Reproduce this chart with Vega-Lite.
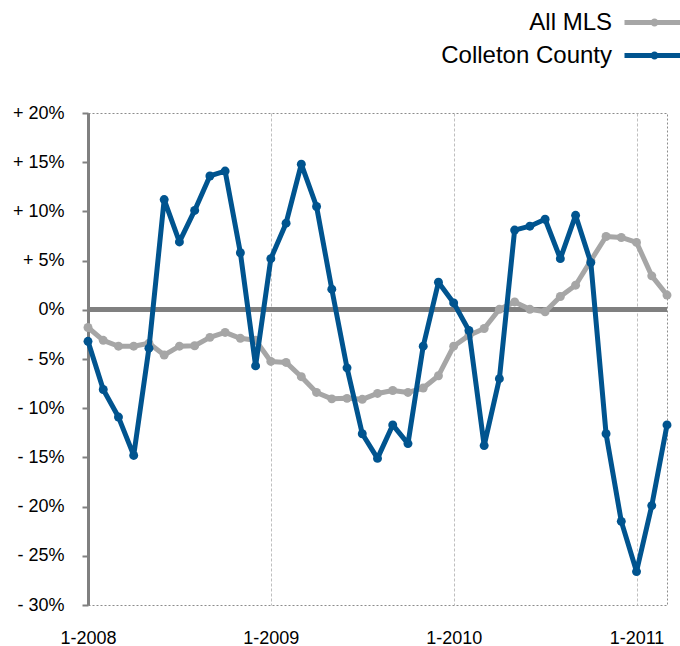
{
  "$schema": "https://vega.github.io/schema/vega-lite/v6.json",
  "width": 579,
  "height": 492,
  "autosize": {"type": "none"},
  "padding": {"left": 88, "top": 113, "right": 13, "bottom": 41},
  "background": "white",
  "config": {
    "view": {"stroke": "#8c8c8c", "strokeDash": [2, 2], "strokeWidth": 1},
    "font": "Liberation Sans"
  },
  "data": {
    "values": [
      {"month": "1-2008", "series": "All MLS", "value": -1.8}, {"month": "1-2008", "series": "Colleton County", "value": -3.2},
      {"month": "2-2008", "series": "All MLS", "value": -3.1}, {"month": "2-2008", "series": "Colleton County", "value": -8.1},
      {"month": "3-2008", "series": "All MLS", "value": -3.7}, {"month": "3-2008", "series": "Colleton County", "value": -10.9},
      {"month": "4-2008", "series": "All MLS", "value": -3.7}, {"month": "4-2008", "series": "Colleton County", "value": -14.8},
      {"month": "5-2008", "series": "All MLS", "value": -3.4}, {"month": "5-2008", "series": "Colleton County", "value": -3.9},
      {"month": "6-2008", "series": "All MLS", "value": -4.6}, {"month": "6-2008", "series": "Colleton County", "value": 11.2},
      {"month": "7-2008", "series": "All MLS", "value": -3.7}, {"month": "7-2008", "series": "Colleton County", "value": 6.9},
      {"month": "8-2008", "series": "All MLS", "value": -3.65}, {"month": "8-2008", "series": "Colleton County", "value": 10.1},
      {"month": "9-2008", "series": "All MLS", "value": -2.8}, {"month": "9-2008", "series": "Colleton County", "value": 13.6},
      {"month": "10-2008", "series": "All MLS", "value": -2.3}, {"month": "10-2008", "series": "Colleton County", "value": 14.1},
      {"month": "11-2008", "series": "All MLS", "value": -2.9}, {"month": "11-2008", "series": "Colleton County", "value": 5.8},
      {"month": "12-2008", "series": "All MLS", "value": -3.1}, {"month": "12-2008", "series": "Colleton County", "value": -5.7},
      {"month": "1-2009", "series": "All MLS", "value": -5.25}, {"month": "1-2009", "series": "Colleton County", "value": 5.2},
      {"month": "2-2009", "series": "All MLS", "value": -5.35}, {"month": "2-2009", "series": "Colleton County", "value": 8.8},
      {"month": "3-2009", "series": "All MLS", "value": -6.8}, {"month": "3-2009", "series": "Colleton County", "value": 14.8},
      {"month": "4-2009", "series": "All MLS", "value": -8.4}, {"month": "4-2009", "series": "Colleton County", "value": 10.5},
      {"month": "5-2009", "series": "All MLS", "value": -9.05}, {"month": "5-2009", "series": "Colleton County", "value": 2.1},
      {"month": "6-2009", "series": "All MLS", "value": -9.0}, {"month": "6-2009", "series": "Colleton County", "value": -5.9},
      {"month": "7-2009", "series": "All MLS", "value": -9.1}, {"month": "7-2009", "series": "Colleton County", "value": -12.6},
      {"month": "8-2009", "series": "All MLS", "value": -8.5}, {"month": "8-2009", "series": "Colleton County", "value": -15.1},
      {"month": "9-2009", "series": "All MLS", "value": -8.2}, {"month": "9-2009", "series": "Colleton County", "value": -11.7},
      {"month": "10-2009", "series": "All MLS", "value": -8.4}, {"month": "10-2009", "series": "Colleton County", "value": -13.6},
      {"month": "11-2009", "series": "All MLS", "value": -7.95}, {"month": "11-2009", "series": "Colleton County", "value": -3.7},
      {"month": "12-2009", "series": "All MLS", "value": -6.7}, {"month": "12-2009", "series": "Colleton County", "value": 2.8},
      {"month": "1-2010", "series": "All MLS", "value": -3.7}, {"month": "1-2010", "series": "Colleton County", "value": 0.7},
      {"month": "2-2010", "series": "All MLS", "value": -2.6}, {"month": "2-2010", "series": "Colleton County", "value": -2.1},
      {"month": "3-2010", "series": "All MLS", "value": -1.9}, {"month": "3-2010", "series": "Colleton County", "value": -13.8},
      {"month": "4-2010", "series": "All MLS", "value": 0.05}, {"month": "4-2010", "series": "Colleton County", "value": -7.0},
      {"month": "5-2010", "series": "All MLS", "value": 0.8}, {"month": "5-2010", "series": "Colleton County", "value": 8.1},
      {"month": "6-2010", "series": "All MLS", "value": 0.05}, {"month": "6-2010", "series": "Colleton County", "value": 8.5},
      {"month": "7-2010", "series": "All MLS", "value": -0.2}, {"month": "7-2010", "series": "Colleton County", "value": 9.2},
      {"month": "8-2010", "series": "All MLS", "value": 1.35}, {"month": "8-2010", "series": "Colleton County", "value": 5.2},
      {"month": "9-2010", "series": "All MLS", "value": 2.5}, {"month": "9-2010", "series": "Colleton County", "value": 9.6},
      {"month": "10-2010", "series": "All MLS", "value": 5.0}, {"month": "10-2010", "series": "Colleton County", "value": 4.8},
      {"month": "11-2010", "series": "All MLS", "value": 7.45}, {"month": "11-2010", "series": "Colleton County", "value": -12.6},
      {"month": "12-2010", "series": "All MLS", "value": 7.35}, {"month": "12-2010", "series": "Colleton County", "value": -21.5},
      {"month": "1-2011", "series": "All MLS", "value": 6.85}, {"month": "1-2011", "series": "Colleton County", "value": -26.6},
      {"month": "2-2011", "series": "All MLS", "value": 3.45}, {"month": "2-2011", "series": "Colleton County", "value": -19.9},
      {"month": "3-2011", "series": "All MLS", "value": 1.5}, {"month": "3-2011", "series": "Colleton County", "value": -11.7}
    ]
  },
  "layer": [
    {
      "mark": {"type": "rule", "color": "#808080", "strokeWidth": 4},
      "encoding": {
        "y": {"datum": 0, "type": "quantitative", "scale": {"domain": [-30, 20], "nice": false},
          "axis": {"values": [-30, -25, -20, -15, -10, -5, 0, 5, 10, 15, 20], "title": null, "domainColor": "#808080", "domainWidth": 3, "tickColor": "#808080", "tickWidth": 2, "tickSize": 6, "labelPadding": 18, "labelFontSize": 18, "labelColor": "#000000", "gridColor": "#8c8c8c", "gridDash": [2, 2], "gridWidth": 1,
            "labelExpr": "datum.value > 0 ? '+ ' + datum.value + '%' : (datum.value < 0 ? '- ' + (-datum.value) + '%' : '0%')"}}
      }
    },
    {
      "transform": [{"filter": "datum.series === 'All MLS'"}],
      "mark": {"type": "line", "strokeWidth": 5, "strokeJoin": "round", "strokeCap": "round", "point": {"size": 80, "filled": true}},
      "encoding": {
        "x": {"field": "month", "type": "ordinal", "sort": null, "scale": {"type": "point", "padding": 0},
          "axis": {"values": ["1-2008", "1-2009", "1-2010", "1-2011"], "title": null, "domain": false, "ticks": false, "tickSize": 0, "grid": true, "gridColor": "#bfbfbf", "gridDash": [3, 2], "gridWidth": 1, "labelAngle": 0, "labelPadding": 24, "labelFontSize": 18, "labelColor": "#000000"}},
        "y": {"field": "value", "type": "quantitative", "scale": {"domain": [-30, 20], "nice": false},
          "axis": {"values": [-30, -25, -20, -15, -10, -5, 0, 5, 10, 15, 20], "title": null, "domainColor": "#808080", "domainWidth": 3, "tickColor": "#808080", "tickWidth": 2, "tickSize": 6, "labelPadding": 18, "labelFontSize": 18, "labelColor": "#000000", "gridColor": "#8c8c8c", "gridDash": [2, 2], "gridWidth": 1,
            "labelExpr": "datum.value > 0 ? '+ ' + datum.value + '%' : (datum.value < 0 ? '- ' + (-datum.value) + '%' : '0%')"}},
        "color": {"field": "series", "type": "nominal", "scale": {"domain": ["All MLS", "Colleton County"], "range": ["#a6a6a6", "#00548f"]},
          "legend": {"title": null, "orient": "none", "legendX": 549, "legendY": -108, "direction": "vertical", "symbolType": "M-2,0L2,0M-0.1,0a0.1,0.1 0 1,0 0.2,0a0.1,0.1 0 1,0 -0.2,0", "symbolSize": 900, "symbolStrokeWidth": 5, "labelAlign": "right", "labelOffset": -60, "labelFontSize": 24, "labelColor": "#000000", "rowPadding": 3, "padding": 0, "labelLimit": 300}}
      }
    },
    {
      "transform": [{"filter": "datum.series === 'Colleton County'"}],
      "mark": {"type": "line", "strokeWidth": 5, "strokeJoin": "round", "strokeCap": "round", "point": {"size": 80, "filled": true}},
      "encoding": {
        "x": {"field": "month", "type": "ordinal", "sort": null, "scale": {"type": "point", "padding": 0},
          "axis": {"values": ["1-2008", "1-2009", "1-2010", "1-2011"], "title": null, "domain": false, "ticks": false, "tickSize": 0, "grid": true, "gridColor": "#bfbfbf", "gridDash": [3, 2], "gridWidth": 1, "labelAngle": 0, "labelPadding": 24, "labelFontSize": 18, "labelColor": "#000000"}},
        "y": {"field": "value", "type": "quantitative", "scale": {"domain": [-30, 20], "nice": false},
          "axis": {"values": [-30, -25, -20, -15, -10, -5, 0, 5, 10, 15, 20], "title": null, "domainColor": "#808080", "domainWidth": 3, "tickColor": "#808080", "tickWidth": 2, "tickSize": 6, "labelPadding": 18, "labelFontSize": 18, "labelColor": "#000000", "gridColor": "#8c8c8c", "gridDash": [2, 2], "gridWidth": 1,
            "labelExpr": "datum.value > 0 ? '+ ' + datum.value + '%' : (datum.value < 0 ? '- ' + (-datum.value) + '%' : '0%')"}},
        "color": {"field": "series", "type": "nominal", "scale": {"domain": ["All MLS", "Colleton County"], "range": ["#a6a6a6", "#00548f"]},
          "legend": {"title": null, "orient": "none", "legendX": 549, "legendY": -108, "direction": "vertical", "symbolType": "M-2,0L2,0M-0.1,0a0.1,0.1 0 1,0 0.2,0a0.1,0.1 0 1,0 -0.2,0", "symbolSize": 900, "symbolStrokeWidth": 5, "labelAlign": "right", "labelOffset": -60, "labelFontSize": 24, "labelColor": "#000000", "rowPadding": 3, "padding": 0, "labelLimit": 300}}
      }
    }
  ]
}
